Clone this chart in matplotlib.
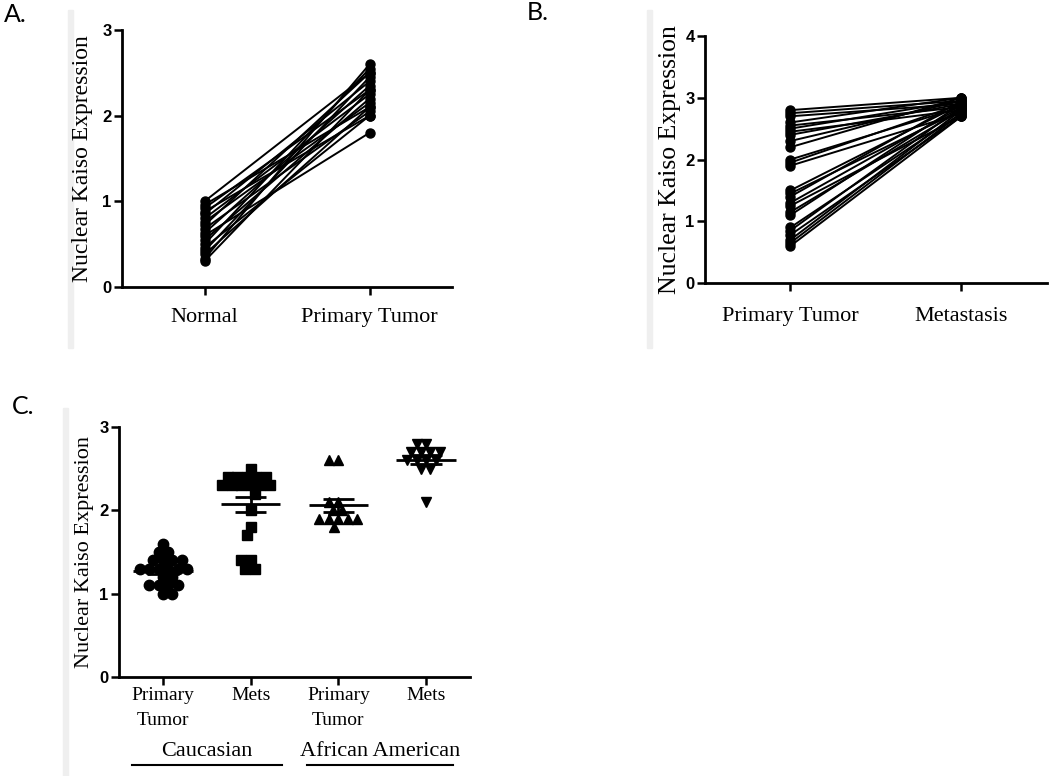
import numpy as np
import matplotlib
matplotlib.use("Agg")
import matplotlib.pyplot as plt
from matplotlib.patches import Rectangle
from matplotlib.lines import Line2D
import matplotlib.transforms as mtransforms

# A: paired normal vs primary tumour
normal_a = [0.30, 0.33, 0.38, 0.42, 0.46, 0.50, 0.55, 0.60, 0.63, 0.68,
            0.72, 0.76, 0.80, 0.85, 0.88, 0.92, 0.96, 1.00]
tumor_a = [2.30, 2.60, 2.10, 2.45, 2.00, 2.55, 2.20, 1.80, 2.35, 2.05,
           2.50, 2.15, 2.25, 2.40, 2.00, 2.30, 2.10, 2.50]
cats_a = ["Normal", "Primary Tumor"]

# B: paired primary tumour vs metastasis
primary_b = [0.60, 0.65, 0.70, 0.78, 0.85, 0.90, 1.10, 1.15, 1.25, 1.30,
             1.40, 1.45, 1.50, 1.90, 1.95, 2.00, 2.20, 2.30, 2.40, 2.50,
             2.55, 2.60, 2.70, 2.80, 2.75, 2.45]
mets_b = [2.70, 2.75, 2.80, 2.70, 2.85, 2.75, 2.90, 2.80, 2.70, 2.85,
          2.95, 2.80, 2.90, 2.75, 2.90, 2.85, 3.00, 2.95, 2.90, 2.95,
          2.85, 3.00, 2.90, 3.00, 2.95, 2.80]
cats_b = ["Primary Tumor", "Metastasis"]

# C: scatter by ethnicity
cauc_primary = [1.6, 1.5, 1.5, 1.4, 1.4, 1.4, 1.4, 1.3, 1.3, 1.3, 1.3, 1.3,
                1.3, 1.2, 1.2, 1.1, 1.1, 1.1, 1.1, 1.0, 1.0]
cauc_mets = [2.5, 2.4, 2.4, 2.4, 2.4, 2.4, 2.3, 2.3, 2.3, 2.3, 2.3, 2.3,
             2.2, 2.0, 1.8, 1.7, 1.4, 1.4, 1.3, 1.3]
aa_primary = [2.6, 2.6, 2.1, 2.1, 2.0, 2.0, 1.9, 1.9, 1.9, 1.9, 1.9, 1.8]
aa_mets = [2.8, 2.8, 2.7, 2.7, 2.7, 2.7, 2.6, 2.6, 2.6, 2.6, 2.5, 2.5, 2.1]
cats_c = ["Primary\nTumor", "Mets", "Primary\nTumor", "Mets"]
groups_c = ["Caucasian", "African American"]

SERIF = "Liberation Serif"
SANS = "Liberation Sans"


def style_axes(ax, ymax, lab_x, lab_size, xpad):
    for s in ("top", "right"):
        ax.spines[s].set_visible(False)
    for s in ("left", "bottom"):
        ax.spines[s].set_linewidth(2)
    ax.set_ylim(0, ymax)
    ax.set_yticks(range(ymax + 1))
    ax.set_yticklabels([str(v) for v in range(ymax + 1)], fontfamily=SANS,
                       fontweight="bold", fontsize=12)
    ax.tick_params(axis="y", length=6, width=1.8, pad=1.5)
    ax.tick_params(axis="x", length=6, width=1.8, pad=xpad)
    ax.set_ylabel("Nuclear Kaiso Expression", fontfamily=SERIF, fontsize=lab_size,
                  va="center")
    ax.yaxis.set_label_coords(lab_x, 0.5)


def swarm_offsets(vals, px_x, px_y, diam=9.2):
    # simple beeswarm: nearest free spot to the centre, in pixel space
    placed = []
    offs = []
    for j, v in enumerate(vals):
        y = v * px_y
        k = 0
        sign = 1 if j % 2 == 0 else -1
        while True:
            found = None
            for cand in ([0.0] if k == 0 else [sign * k * 0.5, -sign * k * 0.5]):
                if all((cand - px) ** 2 + (y - py) ** 2 >= diam ** 2 for px, py in placed):
                    found = cand
                    break
            if found is not None:
                break
            k += 1
        placed.append((found, y))
        offs.append(found / px_x)
    return np.array(offs)


fig = plt.figure(figsize=(10.5, 7.76), dpi=100)

# faint scan strips
for x0, y0, y1 in [(68, 10, 348), (647, 10, 348), (63, 408, 776)]:
    fig.patches.append(Rectangle((x0 / 1050, 1 - y1 / 776), 5 / 1050, (y1 - y0) / 776,
                                 transform=fig.transFigure, color="#efefef", zorder=-5))

# ---- A
ax = fig.add_axes([0.1162, 0.6302, 0.3143, 0.3311])
for n, t in zip(normal_a, tumor_a):
    ax.plot([0, 1], [n, t], "-o", color="black", lw=1.4, ms=6.5, clip_on=False)
ax.set_xlim(-0.5, 1.5)
ax.set_xticks([0, 1])
ax.set_xticklabels(cats_a, fontfamily=SERIF, fontsize=16)
style_axes(ax, 3, -0.121, 17, 9.5)

# ---- B
ax = fig.add_axes([0.6714, 0.6353, 0.3257, 0.3183])
for p, m in zip(primary_b, mets_b):
    ax.plot([0, 1], [p, m], "-o", color="black", lw=1.4, ms=6.5, clip_on=False)
ax.set_xlim(-0.5, 1.5)
ax.set_xticks([0, 1])
ax.set_xticklabels(cats_b, fontfamily=SERIF, fontsize=16)
style_axes(ax, 4, -0.102, 18.5, 11)

# ---- C
ax = fig.add_axes([0.1133, 0.1276, 0.3343, 0.3222])
series_c = [cauc_primary, cauc_mets, aa_primary, aa_mets]
markers = ["o", "s", "^", "v"]
px_x = 1050 * 0.3343 / 4
px_y = 776 * 0.3222 / 3
for i, (vals, mk) in enumerate(zip(series_c, markers)):
    vals = np.asarray(vals)
    ax.plot(i + swarm_offsets(vals, px_x, px_y), vals, mk, color="black", ms=7.5,
            ls="none", clip_on=False, zorder=2)
    m = vals.mean()
    se = vals.std(ddof=1) / np.sqrt(len(vals))
    ax.hlines(m, i - 0.34, i + 0.34, color="black", lw=2, zorder=3)
    ax.hlines([m - se, m + se], i - 0.18, i + 0.18, color="black", lw=2, zorder=3)
    ax.vlines(i, m - se, m + se, color="black", lw=2, zorder=3)
ax.set_xlim(-0.5, 3.5)
ax.set_xticks(range(4))
ax.set_xticklabels(cats_c, fontfamily=SERIF, fontsize=14, linespacing=1.55)
style_axes(ax, 3, -0.097, 16, 1.5)

trans = mtransforms.blended_transform_factory(ax.transData, ax.transAxes)
for name, (x0, x1) in zip(groups_c, [(-0.352, 1.357), (1.642, 3.306)]):
    ax.text((x0 + x1) / 2, -0.30, name, transform=trans, ha="center", va="center",
            fontfamily=SERIF, fontsize=16)
    ax.add_line(Line2D([x0, x1], [-0.352, -0.352], transform=trans, color="black",
                       lw=1.5, clip_on=False))

# panel letters
for lab, x, y in [("A.", 4, 14), ("B.", 527, 13), ("C.", 12, 407)]:
    fig.text(x / 1050, 1 - y / 776, lab, ha="left", va="center", fontsize=18,
             fontfamily="Lato")

fig.savefig("out.png", dpi=100)
